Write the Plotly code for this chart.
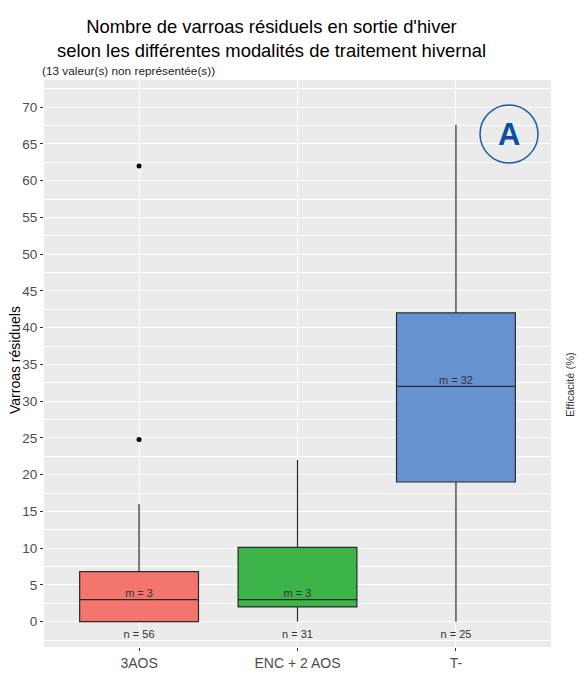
import plotly.graph_objects as go

# boxplot stats
modalites = ["3AOS", "ENC + 2 AOS", "T-"]
q1 = [0, 2, 19]
medianes = [3, 3, 32]
q3 = [6.8, 10.1, 42]
moust_bas = [0, 0, 0]
moust_haut = [16, 22, 67.6]
effectifs = [56, 31, 25]
couleurs = ["#F3766E", "#3CB44A", "#6593CF"]

outliers_x = ["3AOS", "3AOS"]
outliers_y = [24.8, 62]

W, H = 577, 700
L, R, T, B = 44, 26, 80, 53


def px(x):
    return (x - L) / (W - L - R)


def py(y):
    return (H - B - y) / (H - T - B)


fig = go.Figure()
for i in range(len(modalites)):
    fig.add_trace(go.Box(
        x=[modalites[i]], q1=[q1[i]], median=[medianes[i]], q3=[q3[i]],
        lowerfence=[moust_bas[i]], upperfence=[moust_haut[i]],
        fillcolor=couleurs[i], line=dict(color="#2A2A2A", width=1.2),
        width=0.75, whiskerwidth=0, boxpoints=False, showlegend=False,
        hoverinfo="skip"))

fig.add_trace(go.Scatter(x=outliers_x, y=outliers_y, mode="markers",
                         marker=dict(color="black", size=5), showlegend=False))

# m = ... above the median, n = ... under each box
fig.add_trace(go.Scatter(x=modalites, y=medianes, mode="text",
                         text=["m = %g" % m for m in medianes],
                         textposition="top center",
                         textfont=dict(size=11, color="#333333"),
                         showlegend=False))
fig.add_trace(go.Scatter(x=modalites, y=[-1.8] * 3, mode="text",
                         text=["n = %d" % n for n in effectifs],
                         textfont=dict(size=11, color="#333333"),
                         showlegend=False))

fig.update_layout(
    width=W, height=H,
    margin=dict(l=L, r=R, t=T, b=B),
    paper_bgcolor="white", plot_bgcolor="#EBEBEB",
    font=dict(family="Liberation Sans, Arial, sans-serif"),
    showlegend=False,
)
fig.update_xaxes(
    type="category", range=[-0.6, 2.6], showgrid=True, gridcolor="white",
    gridwidth=1, ticks="outside", ticklen=3, tickcolor="#333333",
    tickfont=dict(size=14, color="#4D4D4D"), zeroline=False, automargin=False)
fig.update_yaxes(
    range=[-3.45, 73.7], dtick=5, tick0=0, showgrid=True, gridcolor="white",
    gridwidth=1, ticks="outside", ticklen=3, tickcolor="#333333",
    tickfont=dict(size=13.5, color="#4D4D4D"), zeroline=False, automargin=False,
    minor=dict(dtick=2.5, showgrid=True, gridcolor="white", gridwidth=0.5))

fig.add_annotation(
    text="Varroas résiduels", xref="paper", yref="paper", x=px(15), y=py(360),
    xanchor="center", yanchor="middle", textangle=-90, showarrow=False,
    font=dict(size=14, color="black"))

fig.add_annotation(
    text="Nombre de varroas résiduels en sortie d'hiver<br>selon les différentes modalités de traitement hivernal",
    xref="paper", yref="paper", x=px(271), y=py(14), xanchor="center",
    yanchor="top", showarrow=False, font=dict(size=18.4, color="black"))
fig.add_annotation(
    text="(13 valeur(s) non représentée(s))", xref="paper", yref="paper",
    x=px(40), y=py(71), xanchor="left", yanchor="middle", showarrow=False,
    font=dict(size=11.8, color="#222222"))

# encircled "A"
fig.add_shape(type="circle", xref="paper", yref="paper",
              x0=px(480), x1=px(538), y0=py(105), y1=py(163),
              line=dict(color="#1A5CA8", width=1.5), fillcolor="rgba(0,0,0,0)")
fig.add_annotation(text="<b>A</b>", xref="paper", yref="paper",
                   x=px(509), y=py(134), xanchor="center", yanchor="middle",
                   showarrow=False,
                   font=dict(size=31, color="#0D4FA0", family="Liberation Sans, Arial"))

# cut-off label of the neighbouring chart
fig.add_annotation(text="Efficacité (%)", xref="paper", yref="paper",
                   x=px(570), y=py(385), xanchor="center", yanchor="middle",
                   textangle=-90, showarrow=False,
                   font=dict(size=11, color="#333333"))

fig.write_html("out.html", config={"displayModeBar": False},
               post_script="document.body.style.margin='0';")
